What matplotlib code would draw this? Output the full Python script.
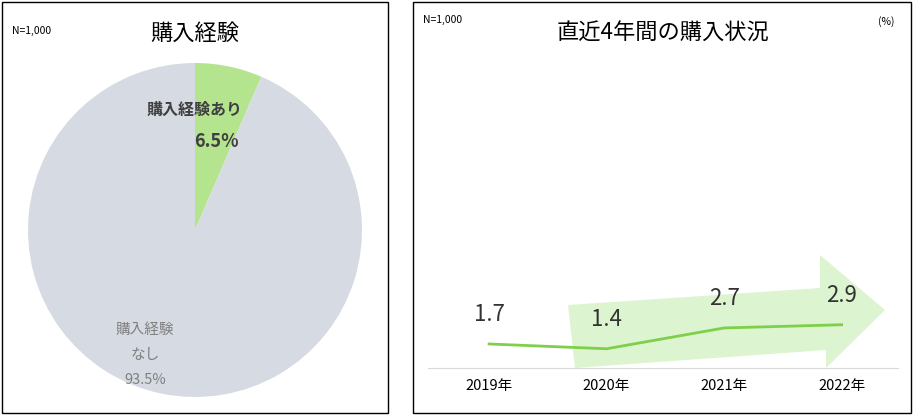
import matplotlib
matplotlib.use("Agg")
import matplotlib.pyplot as plt
from matplotlib.patches import Rectangle, Polygon
from matplotlib.transforms import IdentityTransform

plt.rcParams["font.family"] = "Noto Sans CJK JP"

pie_labels = ["購入経験あり", "購入経験", "なし"]
pie_values = [6.5, 93.5]
years = ["2019年", "2020年", "2021年", "2022年"]
rates = [1.7, 1.4, 2.7, 2.9]

W, H = 917, 417
fig = plt.figure(figsize=(W/100, H/100), dpi=100)
fig.patch.set_facecolor("white")

def fr(x0, y0, x1, y1):
    return [x0/W, 1-y1/H, (x1-x0)/W, (y1-y0)/H]

for x0, x1 in [(2, 388), (413, 911)]:
    fig.patches.append(Rectangle((x0/W, 1-413/H), (x1-x0)/W, 411/H, transform=fig.transFigure,
                                 fill=False, ec="black", lw=1))

# pie
ax1 = fig.add_axes(fr(28, 63, 362, 397))
ax1.pie(pie_values, colors=["#b4e48e", "#d6dbe3"], startangle=90, counterclock=False,
        wedgeprops=dict(linewidth=0))
ax1.set_xlim(-1, 1); ax1.set_ylim(-1, 1)
ax1.set_aspect("equal")
ax1.text(0.0, 0.72, pie_labels[0], ha="center", va="center", fontsize=11.5, fontweight="bold", color="#404040")
ax1.text(0.13, 0.53, f"{pie_values[0]}%", ha="center", va="center", fontsize=13, fontweight="bold", color="#404040")
ax1.text(-0.3, -0.6, pie_labels[1], ha="center", va="center", fontsize=10.5, color="#7f7f7f")
ax1.text(-0.3, -0.75, pie_labels[2], ha="center", va="center", fontsize=10.5, color="#7f7f7f")
ax1.text(-0.3, -0.9, f"{pie_values[1]}%", ha="center", va="center", fontsize=10.5, color="#7f7f7f")
fig.text(12/W, 1-31/H, "N=1,000", fontsize=7.5, va="center")
fig.text(195/W, 1-33/H, "購入経験", fontsize=16, ha="center", va="center")

fig.text(423/W, 1-20/H, "N=1,000", fontsize=7.5, va="center")
fig.text(663/W, 1-33/H, "直近4年間の購入状況", fontsize=16, ha="center", va="center")
fig.text(878/W, 1-22/H, "(%)", fontsize=7.5, va="center")

ax2 = fig.add_axes(fr(428, 70, 898, 368))
ax2.set_facecolor("none")
pts = [(568, 305), (820, 288), (820, 255), (885, 310), (826, 368), (826, 350), (575, 368)]
arrow = Polygon([(x, H-y) for x, y in pts], closed=True, transform=IdentityTransform(),
                fc="#c6eeb0", alpha=0.6, ec="none", zorder=0)
ax2.add_artist(arrow)
xs = [0.5, 1.5, 2.5, 3.5]
ax2.plot(xs, rates, color="#7ed04a", lw=2, zorder=2)
for x, v in zip(xs, rates):
    ax2.text(x, v + 1.1, f"{v}", ha="center", va="bottom", fontsize=16, color="#333333", zorder=3)
ax2.set_xlim(-0.02, 3.98)
ax2.set_ylim(0.2, 18.8)
ax2.set_xticks(xs)
ax2.set_xticklabels(years, fontsize=10.5)
ax2.tick_params(axis="x", length=0, pad=8)
ax2.set_yticks([])
for s in ["top", "right", "left"]:
    ax2.spines[s].set_visible(False)
ax2.spines["bottom"].set_color("#d9d9d9")

fig.savefig("out.png", dpi=100)
